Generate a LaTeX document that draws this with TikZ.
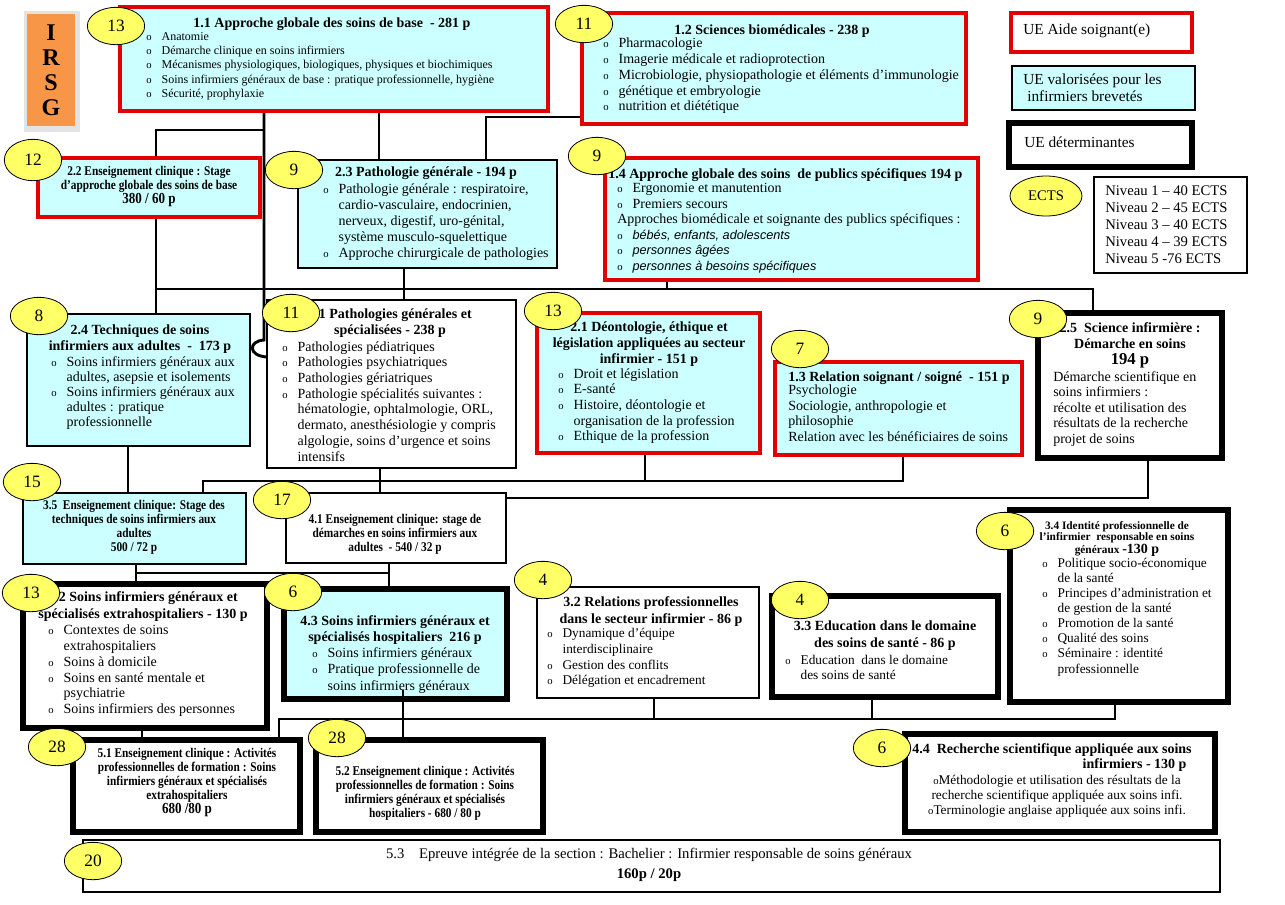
\documentclass[tikz,border=0pt]{standalone}
\usepackage{fontspec}
\setmainfont{Liberation Serif}
\newfontfamily\condf[FakeStretch=0.85]{Liberation Serif}
\newfontfamily\sansf{Liberation Sans}
\usepackage{tikz}
\usetikzlibrary{fit,shapes.geometric}
\definecolor{uered}{RGB}{226,0,0}
\definecolor{uecyan}{RGB}{204,255,255}
\definecolor{ueyellow}{RGB}{255,255,102}
\definecolor{ueorange}{RGB}{247,150,70}
\newcommand{\setfs}[2]{\fontsize{#1}{#2}\selectfont}
\newlength\bw \setlength\bw{11.5pt}
\newcommand{\ueb}{\makebox[\bw][l]{\setfs{8}{8}o}}
\newcommand{\uei}{\hspace*{\bw}}

\begin{document}
\begin{tikzpicture}[x=0.75pt,y=-0.75pt,
  uebox/.style={rectangle,draw,inner sep=0pt,line width=0.8pt},
  redbox/.style={uebox,draw=uered,line width=3.2pt},
  fatbox/.style={uebox,line width=4.5pt},
  numb/.style={ellipse,draw,fill=ueyellow,line width=0.6pt,minimum width=43pt,minimum height=28pt,inner sep=0pt,font=\setfs{13}{13}},
  ttl/.style={inner sep=0pt,align=center,font=\bfseries\setfs{10.5}{12}},
  txt/.style={inner sep=0pt,align=left,font=\setfs{10.5}{11.8}},
  stage/.style={inner sep=0pt,align=center,font=\condf\bfseries\setfs{10}{10.6}},
  conn/.style={line width=2.2pt}]
\fill[white] (0,0) rectangle (1285,904);
\useasboundingbox (0,0) rectangle (1285,904);

% bends of the connectors
\coordinate (c1) at (156,130);
\coordinate (c2) at (264,340);
\coordinate (c3) at (486,117);
\coordinate (c5) at (379,0);
\coordinate (c6) at (404,0);
\coordinate (c7) at (667,0);
\coordinate (c8) at (128,0);
\coordinate (c9) at (380,0);
\coordinate (c10) at (645,0);
\coordinate (c11) at (142,0);
\coordinate (c12) at (654,0);
\coordinate (c13) at (872,0);
\coordinate (bus1) at (156,289);
\coordinate (bus2) at (1093,289);
\coordinate (d1) at (203,481);
\coordinate (d2) at (903,481);
\coordinate (d3) at (1148,498);
\coordinate (e1) at (136,573);
\coordinate (e2) at (389,573);
\coordinate (f1) at (279,719);
\coordinate (f2) at (1115,719);
\coordinate (c14) at (403,690);

% boxes
\fill[gray!22] (24,11) rectangle (80,132);
\node[fit={(27,14)(75,126)},fill=ueorange,inner sep=0pt] (irsg) {};
\node[redbox,fill=uecyan,fit={(120,7)(548,111)}] (ue11) {};
\node[redbox,fill=uecyan,fit={(582,13)(966,124)}] (ue12) {};
\node[redbox,fit={(1011,13)(1192,52)}] (leg1) {};
\node[uebox,fill=uecyan,fit={(1012,66)(1195,110)}] (leg2) {};
\node[fatbox,fit={(1009,123)(1192,167)}] (leg3) {};
\node[uebox,fit={(1094,177)(1247,273)}] (legn) {};
\node[uebox,fill=uecyan,fit={(298,160)(557,268)}] (ue23) {};
\node[redbox,fill=uecyan,fit={(605,158)(978,280)}] (ue14) {};
\node[uebox,fill=uecyan,fit={(27,314)(250,446)}] (ue24) {};
\node[uebox,fit={(267,300)(516,468)}] (ue31) {};
\node[redbox,fill=uecyan,fit={(537,313)(760,453)}] (ue21) {};
\node[redbox,fill=uecyan,fit={(775,362)(1022,455)}] (ue13) {};
\node[fatbox,fit={(1038,313)(1222,458)}] (ue25) {};
\node[uebox,fill=uecyan,fit={(23,493)(246,564)}] (ue35) {};
\node[uebox,fit={(286,493)(506,563)}] (ue41) {};
\node[fatbox,fit={(23,584)(267,728)}] (ue42) {};
\node[fatbox,fill=uecyan,fit={(284,589)(507,699)}] (ue43) {};
\node[uebox,fit={(537,587)(759,698)}] (ue32) {};
\node[fatbox,fit={(772,596)(998,697)}] (ue33) {};
\node[fatbox,fit={(1010,510)(1228,702)}] (ue34) {};
\node[fatbox,fit={(905,734)(1215,832)}] (ue44) {};
\node[fatbox,fit={(73,740)(300,832)}] (ue51) {};
\node[fatbox,fit={(316,740)(543,832)}] (ue52) {};
\node[uebox,line width=1.5pt,fit={(83,840)(1220,892)}] (ue53) {};

% connectors
\draw[conn] (ue11.south -| c2) -- (c2) .. controls (248,341) and (248,356) .. (267,357);
\draw[conn] (c1 -| c2) -- (c1) -- (bus1 |- ue24.north);
\draw[conn] (ue11.south -| c5) -- (ue23.north -| c5);
\draw[conn] (ue12.west |- c3) -- (c3) -- (ue23.north -| c3);
\draw[conn] (bus1) -- (bus2) -- (bus2 |- ue25.north);
\draw[conn] (ue23.south -| c6) -- (ue31.north -| c6);
\draw[conn] (ue14.south -| c7) -- (bus1 -| c7);
\draw[conn] (ue24.south -| c8) -- (ue35.north -| c8);
\draw[conn] (ue31.south -| c9) -- (ue41.north -| c9);
\draw[conn] (ue35.north -| d1) -- (d1) -- (d2) -- (ue13.south -| d2);
\draw[conn] (ue21.south -| c10) -- (d1 -| c10);
\draw[conn] (ue41.east |- d3) -- (d3) -- (ue25.south -| d3);
\draw[conn] (ue35.south -| e1) -- (ue42.north -| e1);
\draw[conn] (e1) -- (e2);
\draw[conn] (ue41.south -| e2) -- (ue43.north -| e2);
\draw[conn] (ue42.south -| c11) -- (ue51.north -| c11);
\draw[conn] (ue51.north -| f1) -- (f1) -- (f2) -- (ue34.south -| f2);
\draw[conn] (ue32.south -| c12) -- (f1 -| c12);
\draw[conn] (ue33.south -| c13) -- (f1 -| c13);
\node[redbox,fill=uecyan,fit={(38,158)(260,217)}] (ue22) {};

% texts
\node[inner sep=0pt,align=center,font=\bfseries\setfs{18}{18.75}] (irsgt) at (irsg.center) {I\\R\\S\\G};
\node[ttl,anchor=north] (t11) at (332,18) {1.1 Approche globale des soins de base\ \ - 281 p};
\node[txt,anchor=north west,font=\setfs{9}{10.7}] (b11) at (146,32) {\ueb Anatomie\\ \ueb Démarche clinique en soins infirmiers\\ \ueb Mécanismes physiologiques, biologiques, physiques et biochimiques\\ \ueb Soins infirmiers généraux de base : pratique professionnelle, hygiène\\ \ueb Sécurité, prophylaxie};
\node[ttl,anchor=north] (t12) at (772,25) {1.2 Sciences biomédicales - 238 p};
\node[txt,anchor=north west] (b12) at (603,38) {\ueb Pharmacologie\\ \ueb Imagerie médicale et radioprotection\\ \ueb Microbiologie, physiopathologie et éléments d’immunologie\\ \ueb génétique et embryologie\\ \ueb nutrition et diététique};
\node[txt,anchor=west,font=\setfs{11.5}{12}] (l1) at (1023,31) {UE Aide soignant(e)};
\node[txt,anchor=north west,font=\setfs{11.5}{12.8}] (l2) at (1023,74) {UE valorisées pour les\\ \hspace*{3pt}infirmiers brevetés};
\node[txt,anchor=west,font=\setfs{11.5}{12}] (l3) at (1024,142) {UE déterminantes};
\node[txt,anchor=north west,font=\setfs{11}{12.9}] (ln) at (1105,185) {Niveau 1 – 40 ECTS\\Niveau 2 – 45 ECTS\\Niveau 3 – 40 ECTS\\Niveau 4 – 39 ECTS\\Niveau 5 -76 ECTS};
\node[stage,anchor=north] (t22) at (149,166) {2.2 Enseignement clinique : Stage\\d’approche globale des soins de base\\{\setfs{11.5}{12}380 / 60 p}};
\node[ttl,anchor=north] (t23) at (426,167) {2.3 Pathologie générale - 194 p};
\node[txt,anchor=north west,font=\setfs{10.5}{12}] (b23) at (323,183) {\ueb Pathologie générale : respiratoire,\\ \uei cardio-vasculaire, endocrinien,\\ \uei nerveux, digestif, uro-génital,\\ \uei système musculo-squelettique\\ \ueb Approche chirurgicale de pathologies};
\node[ttl,anchor=north west] (t14) at (608,168) {1.4 Approche globale des soins\ \ de publics spécifiques 194 p};
\node[txt,anchor=north west,font=\setfs{10.5}{11.7}] (b14) at (617,183) {\ueb Ergonomie et manutention\\ \ueb Premiers secours\\ Approches biomédicale et soignante des publics spécifiques :\\ \ueb{\sansf\itshape\setfs{9.5}{11}bébés, enfants, adolescents}\\ \ueb{\sansf\itshape\setfs{9.5}{11}personnes âgées}\\ \ueb{\sansf\itshape\setfs{9.5}{11}personnes à besoins spécifiques}};
\node[ttl,anchor=north] (t24) at (140,325) {2.4 Techniques de soins\\infirmiers aux adultes\ \ -\ \ 173 p};
\node[txt,anchor=north west,font=\setfs{10.5}{11.4}] (b24) at (51,356) {\ueb Soins infirmiers généraux aux\\ \uei adultes, asepsie et isolements\\ \ueb Soins infirmiers généraux aux\\ \uei adultes : pratique\\ \uei professionnelle};
\node[ttl,anchor=north,font=\bfseries\setfs{10.5}{12.5}] (t31) at (390,308) {3.1 Pathologies générales et\\spécialisées - 238 p};
\begin{scope}
\clip (267,300) rectangle (516,464);
\node[txt,anchor=north west] (b31) at (282,341) {\ueb Pathologies pédiatriques\\ \ueb Pathologies psychiatriques\\ \ueb Pathologies gériatriques\\ \ueb Pathologie spécialités suivantes :\\ \uei hématologie, ophtalmologie, ORL,\\ \uei dermato, anesthésiologie y compris\\ \uei algologie, soins d'urgence et soins\\ \uei intensifs};
\end{scope}
\node[ttl,anchor=north] (t21) at (649,321) {2.1 Déontologie, éthique et\\législation appliquées au secteur\\infirmier - 151 p};
\node[txt,anchor=north west] (b21) at (558,368) {\ueb Droit et législation\\ \ueb E-santé\\ \ueb Histoire, déontologie et\\ \uei organisation de la profession\\ \ueb Ethique de la profession};
\node[ttl,anchor=north west] (t13) at (788,371) {1.3 Relation soignant / soigné\ \ - 151 p};
\node[txt,anchor=north west,font=\setfs{10.5}{11.6}] (b13) at (788,385) {Psychologie\\Sociologie, anthropologie et\\philosophie\\Relation avec les bénéficiaires de soins};
\node[ttl,anchor=north,font=\bfseries\setfs{10.5}{12.3}] (t25) at (1130,322) {2.5\ \ Science infirmière :\\Démarche en soins\\{\setfs{12.5}{13}194 p}};
\node[txt,anchor=north west,font=\setfs{10.5}{11.6}] (b25) at (1053,371) {Démarche scientifique en\\soins infirmiers :\\récolte et utilisation des\\résultats de la recherche\\projet de soins};
\node[stage,anchor=north] (t35) at (134,500) {3.5\ \ Enseignement clinique: Stage des\\techniques de soins infirmiers aux\\adultes\\500 / 72 p};
\node[stage,anchor=north] (t41) at (395,514) {4.1 Enseignement clinique: stage de\\démarches en soins infirmiers aux\\adultes\ \ - 540 / 32 p};
\node[ttl,anchor=north,font=\bfseries\setfs{10.5}{12.7}] (t42) at (143,591) {4.2 Soins infirmiers généraux et\\spécialisés extrahospitaliers - 130 p};
\node[txt,anchor=north west] (b42) at (48,625) {\ueb Contextes de soins\\ \uei extrahospitaliers\\ \ueb Soins à domicile\\ \ueb Soins en santé mentale et\\ \uei psychiatrie\\ \ueb Soins infirmiers des personnes};
\node[ttl,anchor=north] (t43) at (395,615) {4.3 Soins infirmiers généraux et\\spécialisés hospitaliers\ \ 216 p};
\node[txt,anchor=north west,font=\setfs{10.5}{12.4}] (b43) at (312,647) {\ueb Soins infirmiers généraux\\ \ueb Pratique professionnelle de\\ \uei soins infirmiers généraux};
\draw[conn] (c14) -- (ue52.north -| c14);
\node[ttl,anchor=north,font=\bfseries\setfs{10.5}{12.7}] (t32) at (651,596) {3.2 Relations professionnelles\\dans le secteur infirmier - 86 p};
\node[txt,anchor=north west,font=\setfs{10}{11.8}] (b32) at (547,628) {\ueb Dynamique d’équipe\\ \uei interdisciplinaire\\ \ueb Gestion des conflits\\ \ueb Délégation et encadrement};
\node[ttl,anchor=north,font=\bfseries\setfs{10.5}{12.7}] (t33) at (885,621) {3.3 Education dans le domaine\\des soins de santé - 86 p};
\node[txt,anchor=north west,font=\setfs{10}{11.3}] (b33) at (785,655) {\ueb Education\ \ dans le domaine\\ \uei des soins de santé};
\node[ttl,anchor=north,font=\bfseries\setfs{8.5}{8.4}] (t34) at (1117,521) {3.4 Identité professionnelle de\\l’infirmier\ \ responsable en soins\\généraux {\setfs{10.5}{8.4}-130 p}};
\node[txt,anchor=north west,font=\setfs{10}{11.3}] (b34) at (1042,558) {\ueb Politique socio-économique\\ \uei de la santé\\ \ueb Principes d’administration et\\ \uei de gestion de la santé\\ \ueb Promotion de la santé\\ \ueb Qualité des soins\\ \ueb Séminaire : identité\\ \uei professionnelle};
\node[ttl,anchor=north west,font=\bfseries\setfs{10.5}{11.3}] (t44) at (912,743) {4.4\ \ Recherche scientifique appliquée aux soins\\ \hspace*{124pt}infirmiers - 130 p};
\node[txt,anchor=north,align=center,font=\setfs{10}{11.3}] (b44) at (1057,775) {{\setfs{8}{8}o}Méthodologie et utilisation des résultats de la\\recherche scientifique appliquée aux soins infi.\\{\setfs{8}{8}o}Terminologie anglaise appliquée aux soins infi.};
\node[stage,font=\condf\bfseries\setfs{10}{10.5},anchor=north] (t51) at (187,748) {5.1 Enseignement clinique : Activités\\professionnelles de formation : Soins\\infirmiers généraux et spécialisés\\extrahospitaliers\\{\setfs{11.5}{12}680 /80 p}};
\node[stage,font=\condf\bfseries\setfs{10}{10.5},anchor=north] (t52) at (425,766) {5.2 Enseignement clinique : Activités\\professionnelles de formation : Soins\\infirmiers généraux et spécialisés\\hospitaliers - 680 / 80 p};
\node[txt,anchor=north,align=center,font=\setfs{11}{15}] (t53) at (649,848) {5.3\quad Epreuve intégrée de la section : Bachelier : Infirmier responsable de soins généraux\\{\bfseries 160p / 20p}};

% ECTS ellipses
\node[numb] (e11) at (116,26) {13};
\node[numb] (e12) at (584,24) {11};
\node[numb,minimum height=31pt] (e22) at (33,160) {12};
\node[numb] (e23) at (294,170) {9};
\node[numb] (e14) at (597,156) {9};
\node[numb] (e24) at (39,316) {8};
\node[numb] (e31) at (291,313) {11};
\node[numb] (e21) at (553,311) {13};
\node[numb] (e13) at (800,349) {7};
\node[numb] (e25) at (1038,319) {9};
\node[numb] (e35) at (32,482) {15};
\node[numb] (e41) at (282,500) {17};
\node[numb] (e42) at (31,593) {13};
\node[numb] (e43) at (293,592) {6};
\node[numb] (e32) at (543,580) {4};
\node[numb] (e33) at (800,600) {4};
\node[numb] (e34) at (1005,531) {6};
\node[numb] (e51) at (57,747) {28};
\node[numb] (e52) at (337,738) {28};
\node[numb] (e44) at (882,748) {6};
\node[numb] (e53) at (93,861) {20};
\node[numb,minimum width=54pt,minimum height=30pt,font=\setfs{11}{11}] (ects) at (1046,196) {ECTS};
\end{tikzpicture}
\end{document}
